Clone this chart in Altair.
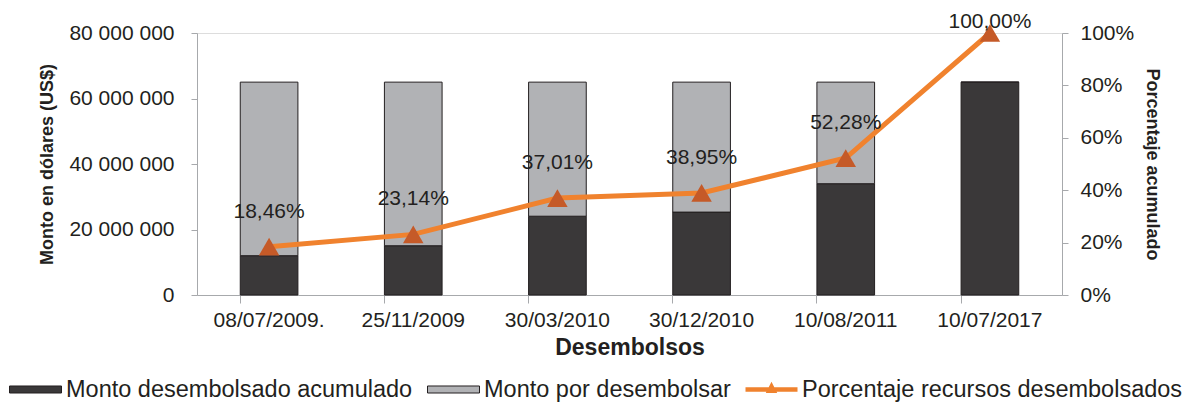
import altair as alt
import pandas as pd

fechas = ["08/07/2009.", "25/11/2009", "30/03/2010", "30/12/2010", "10/08/2011", "10/07/2017"]
acumulado = [12000000, 15041000, 24056500, 25317500, 33982000, 65000000]
por_desembolsar = [53000000, 49959000, 40943500, 39682500, 31018000, 0]
porcentaje = [0.1846, 0.2314, 0.3701, 0.3895, 0.5228, 1.0]

S1 = "Monto desembolsado acumulado"
S2 = "Monto por desembolsar"
S3 = "Porcentaje recursos desembolsados"

rows = []
for f, a, p in zip(fechas, acumulado, por_desembolsar):
    rows.append({"fecha": f, "serie": S1, "monto": a, "ord": 0})
    rows.append({"fecha": f, "serie": S2, "monto": p, "ord": 1})
bars_df = pd.DataFrame(rows)
line_df = pd.DataFrame({"fecha": fechas, "pct": porcentaje})

FONT = "Liberation Sans"
TXT = "#231f20"
GRID = "#a7a9ac"

x_enc = alt.X(
    "fecha:N",
    sort=fechas,
    scale=alt.Scale(paddingInner=0.6, paddingOuter=0.3),
    axis=alt.Axis(
        title="Desembolsos", labelAngle=0, bandPosition=0, ticks=True, tickSize=8,
        tickColor=GRID, domainColor=GRID, labelFontSize=21, labelPadding=6,
        labelColor=TXT, titleFontSize=23, titleFontWeight="bold", titleColor=TXT,
        titlePadding=6, labelFont=FONT, titleFont=FONT,
    ),
)

sym_sig = ("datum.value === '" + S3 + "' ? "
           "'M-1,-0.09L1,-0.09L1,0.09L-1,0.09Z M-0.22,0.13L0,-0.3L0.22,0.13Z' : "
           "'M-1,-0.135L1,-0.135L1,0.135L-1,0.135Z'")
stroke_sig = "datum.value === '" + S3 + "' ? 'transparent' : '#231f20'"

bars = alt.Chart(bars_df).mark_bar(stroke="#231f20", strokeWidth=1).encode(
    x=x_enc,
    y=alt.Y(
        "monto:Q", stack="zero",
        scale=alt.Scale(domain=[0, 80000000], nice=False),
        axis=alt.Axis(
            title="Monto en dólares (US$)", values=[0, 20000000, 40000000, 60000000, 80000000],
            format=",.0f", grid=False, tickSize=6, tickColor=GRID, domainColor=GRID,
            labelFontSize=21, labelPadding=17, labelColor=TXT, labelFont=FONT,
            titleFont=FONT, titleFontSize=18, titleFontWeight="bold", titleColor=TXT,
            titlePadding=12,
        ),
    ),
    color=alt.Color(
        "serie:N",
        scale=alt.Scale(domain=[S1, S2, S3], range=["#3a3839", "#b1b2b5", "#f0822e"]),
        legend=alt.Legend(
            title=None, orient="none", direction="horizontal", legendX=-188, legendY=330,
            symbolSize=2704, symbolStrokeWidth=1, labelFontSize=23.5, labelFont=FONT,
            labelColor=TXT, labelOffset=4, columnPadding=12, labelLimit=600,
            symbolType={"expr": sym_sig}, symbolStrokeColor={"expr": stroke_sig},
        ),
    ),
    order=alt.Order("ord:Q", sort="ascending"),
)

y_pct = alt.Y(
    "pct:Q",
    scale=alt.Scale(domain=[0, 1], nice=False),
    axis=alt.Axis(
        title="Porcentaje acumulado", orient="right", values=[0, 0.2, 0.4, 0.6, 0.8, 1.0],
        format=".0%", grid=False, tickSize=6, tickColor=GRID, domainColor=GRID,
        labelFontSize=21, labelPadding=12, labelColor=TXT, labelFont=FONT,
        titleFont=FONT, titleFontSize=18, titleFontWeight="bold", titleColor=TXT,
        titlePadding=9,
    ),
)

base = alt.Chart(line_df).encode(x=x_enc, y=y_pct)
line = base.mark_line(color="#f0822e", strokeWidth=5)
pts = base.mark_point(shape="triangle-up", filled=True, size=420, color="#c55a28", opacity=1)
lbl = base.transform_filter("datum.pct < 1").mark_text(
    dy=-35, fontSize=21, font=FONT, color=TXT, baseline="middle"
).encode(text=alt.Text("pct:Q", format=".2%"))
lbl_last = base.transform_filter("datum.pct >= 1").mark_text(
    dy=-11, fontSize=21, font=FONT, color=TXT, baseline="middle"
).encode(text=alt.Text("pct:Q", format=".2%"))

right = alt.layer(line, pts, lbl, lbl_last)

chart = alt.layer(bars, right).resolve_scale(y="independent").properties(
    width=865, height=262,
    autosize=alt.AutoSizeParams(type="none"),
    padding={"left": 189, "top": 25, "right": 131, "bottom": 116},
).configure_view(stroke=None).configure(
    locale={"number": {"decimal": ",", "thousands": " ", "grouping": [3], "currency": ["$", ""]}}
)

chart.save("out.html", embed_options={"renderer": "svg", "actions": False})
